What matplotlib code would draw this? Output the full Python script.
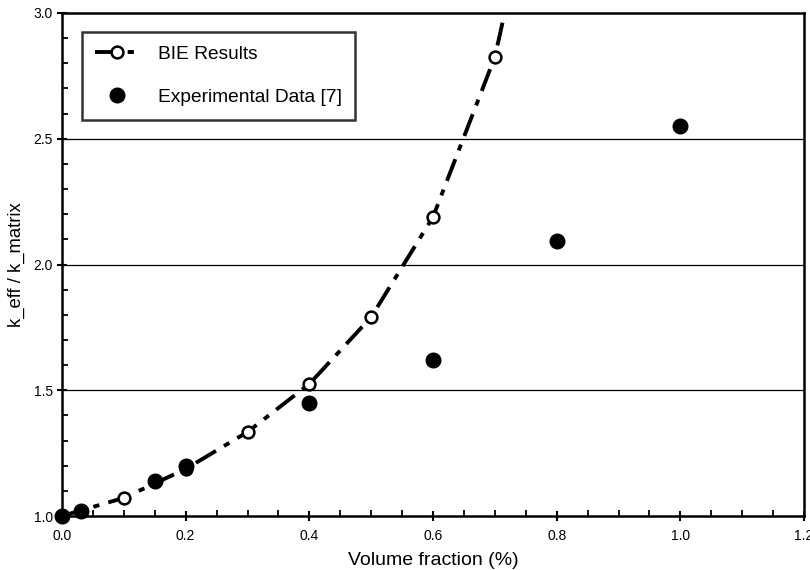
import matplotlib
matplotlib.use("Agg")
import matplotlib.pyplot as plt
from matplotlib.ticker import MultipleLocator
from matplotlib.lines import Line2D

plt.rcParams['font.family'] = ['Liberation Sans', 'DejaVu Sans']

# BIE model results
bie_x = [0.0, 0.1, 0.2, 0.3, 0.4, 0.5, 0.6, 0.7]
bie_y = [1.0, 1.072, 1.187, 1.334, 1.525, 1.791, 2.189, 2.825]
# curve continuation beyond the last computed point (clipped at the top)
curve_x = bie_x + [0.725]
curve_y = bie_y + [3.10]

# Experimental data [7]
exp_x = [0.0, 0.03, 0.15, 0.2, 0.4, 0.6, 0.8, 1.0]
exp_y = [1.0, 1.02, 1.139, 1.199, 1.449, 1.62, 2.093, 2.55]

x_ticks = [0.0, 0.2, 0.4, 0.6, 0.8, 1.0, 1.2]
y_ticks = [1.0, 1.5, 2.0, 2.5, 3.0]

fig = plt.figure(figsize=(8.1, 5.7), dpi=100)
ax = fig.add_axes([62/810, 54/570, (804-62)/810, (516-13)/570])

for yv in [1.5, 2.0, 2.5]:
    ax.axhline(yv, color='black', lw=0.9, zorder=1)

dash = (0, (6, 2.4, 1.6, 2.4))
ax.plot(curve_x, curve_y, color='black', lw=2.8, linestyle=dash,
        dash_capstyle='butt', zorder=2, clip_on=True)
ax.plot(bie_x, bie_y, linestyle='none', marker='o', ms=8.5,
        mfc='white', mec='black', mew=1.8, zorder=3, clip_on=False)
ax.plot(exp_x, exp_y, linestyle='none', marker='o', ms=10.5,
        mfc='black', mec='black', zorder=4, clip_on=False)

ax.set_xlim(0, 1.2)
ax.set_ylim(1.0, 3.0)
ax.set_xticks(x_ticks)
ax.set_yticks(y_ticks)
ax.set_xticklabels([f"{v:.1f}" for v in x_ticks])
ax.set_yticklabels([f"{v:.1f}" for v in y_ticks])
ax.xaxis.set_minor_locator(MultipleLocator(0.05))
ax.yaxis.set_minor_locator(MultipleLocator(0.1))
ax.tick_params(which='major', direction='inout', length=7, width=1.5,
               labelsize=10, color='black', pad=6)
ax.tick_params(which='minor', direction='in', length=4, width=1.3)
ax.tick_params(axis='y', pad=3)

for side in ['left', 'bottom', 'top', 'right']:
    ax.spines[side].set_linewidth(1.8)

ax.set_xlabel('Volume fraction (%)', fontsize=14, labelpad=6)
ax.set_ylabel('k_eff / k_matrix', fontsize=13.3, labelpad=6)

handles = [
    Line2D([], [], color='black', lw=2.8, linestyle=dash, marker='o', ms=8.5,
           mfc='white', mec='black', mew=1.8),
    Line2D([], [], linestyle='none', marker='o', ms=10.5, mfc='black', mec='black'),
]
leg = ax.legend(handles, ['BIE Results', 'Experimental Data [7]'],
                loc='upper left', bbox_to_anchor=(20/742, 1 - 19/503),
                frameon=True, fancybox=False, fontsize=13.8, handlelength=2.2,
                borderpad=0.7, labelspacing=1.35, handletextpad=1.05,
                borderaxespad=0)
leg.get_frame().set_edgecolor('black')
leg.get_frame().set_linewidth(1.8)

fig.savefig('out.png', dpi=100)
